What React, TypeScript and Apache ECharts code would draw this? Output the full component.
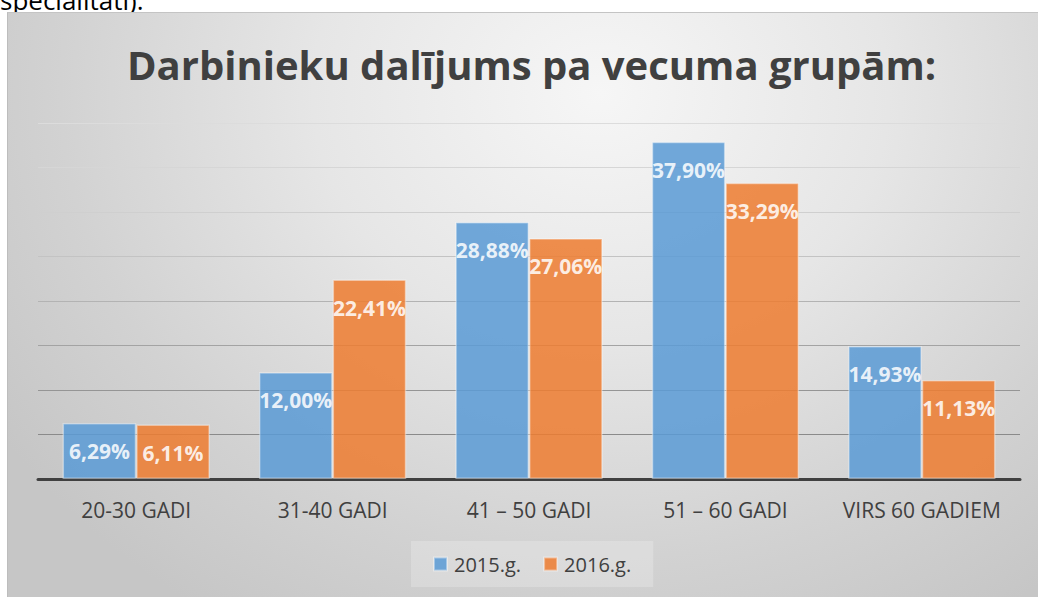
import React, { useEffect, useRef } from "react";
import * as echarts from "echarts";

const categories = ["20-30 GADI", "31-40 GADI", "41 – 50 GADI", "51 – 60 GADI", "VIRS 60 GADIEM"];
const series2015 = [6.29, 12.0, 28.88, 37.9, 14.93];
const series2016 = [6.11, 22.41, 27.06, 33.29, 11.13];
const seriesNames = ["2015.g.", "2016.g."];
const titleText = "Darbinieku dalījums pa vecuma grupām:";
const gridColors = ["#8a8a8a", "#8a8a8a", "#959595", "#a3a3a3", "#b3b3b3", "#c3c3c3", "#cfcfcf", "#d6d6d6", "#dcdcdc"];

const fmt = (v: number) => v.toFixed(2).replace(".", ",") + "%";

export default function App() {
  const ref = useRef<HTMLDivElement>(null);
  useEffect(() => {
    if (!ref.current) return;
    const chart = echarts.init(ref.current, null, { renderer: "svg" });
    const labelCfg = {
      show: true,
      position: "insideTop",
      distance: 17,
      color: "#ffffff",
      fontFamily: "Open Sans",
      fontWeight: "bold",
      fontSize: 21,
      lineHeight: 22,
      formatter: (p: any) => fmt(p.value),
    };
    chart.setOption({
      animation: false,
      backgroundColor: "transparent",
      textStyle: { fontFamily: "Open Sans" },
      title: {
        text: titleText,
        left: 119,
        top: 31,
        padding: 0,
        textStyle: {
          fontFamily: "Open Sans",
          fontWeight: "bold",
          fontSize: 40,
          lineHeight: 40,
          color: "#404040",
        },
      },
      legend: {
        left: 403,
        top: 528,
        padding: [13, 22, 13, 22],
        itemWidth: 13,
        itemHeight: 13,
        itemGap: 22,
        icon: "rect",
        backgroundColor: "rgba(255,255,255,0.22)",
        textStyle: { fontFamily: "Open Sans", fontSize: 20, lineHeight: 20, color: "#404040", padding: [0, 0, 0, 2] },
        data: seriesNames,
      },
      grid: { left: 30, right: 18, top: 110, bottom: 118, containLabel: false },
      xAxis: {
        type: "category",
        data: categories,
        axisTick: { show: false },
        axisLine: { lineStyle: { color: "#404040", width: 3 } },
        axisLabel: { fontFamily: "Open Sans", fontSize: 21, color: "#404040", margin: 20, interval: 0 },
      },
      yAxis: {
        type: "value",
        min: 0,
        max: 40,
        interval: 5,
        axisLabel: { show: false },
        axisLine: { show: false },
        axisTick: { show: false },
        splitLine: { lineStyle: { color: gridColors, width: 1 } },
      },
      series: [
        {
          name: seriesNames[0],
          type: "bar",
          data: series2015,
          barGap: "0%",
          barCategoryGap: "25%",
          itemStyle: { color: "#5b9bd5", opacity: 0.86, borderColor: "rgba(255,255,255,0.45)", borderWidth: 1.5 },
          label: labelCfg,
        },
        {
          name: seriesNames[1],
          type: "bar",
          data: series2016,
          barGap: "0%",
          barCategoryGap: "25%",
          itemStyle: { color: "#ed7d31", opacity: 0.86, borderColor: "rgba(255,255,255,0.45)", borderWidth: 1.5 },
          label: labelCfg,
        },
      ],
    });
    return () => chart.dispose();
  }, []);

  return (
    <div style={{ position: "fixed", left: 0, top: 0, width: 1038, height: 597, overflow: "hidden", background: "#ffffff" }}>
      <div
        style={{
          position: "absolute",
          left: 0,
          top: -13,
          fontFamily: "Open Sans, Lato, sans-serif",
          fontSize: 26,
          lineHeight: "26px",
          color: "#000000",
          whiteSpace: "nowrap",
        }}
      >
        specialitāti).
      </div>
      <div
        style={{
          position: "absolute",
          left: 7,
          top: 12,
          width: 1030,
          height: 584,
          borderLeft: "1px solid #bdbdbd",
          borderTop: "1px solid #c4c4c4",
          background:
            "radial-gradient(ellipse 720px 620px at 593px 80px, #f6f6f6 0%, #e6e6e6 40%, #d2d2d2 75%, #c6c6c6 100%)",
        }}
      >
        <div ref={ref} style={{ width: 1030, height: 584 }} />
      </div>
    </div>
  );
}
